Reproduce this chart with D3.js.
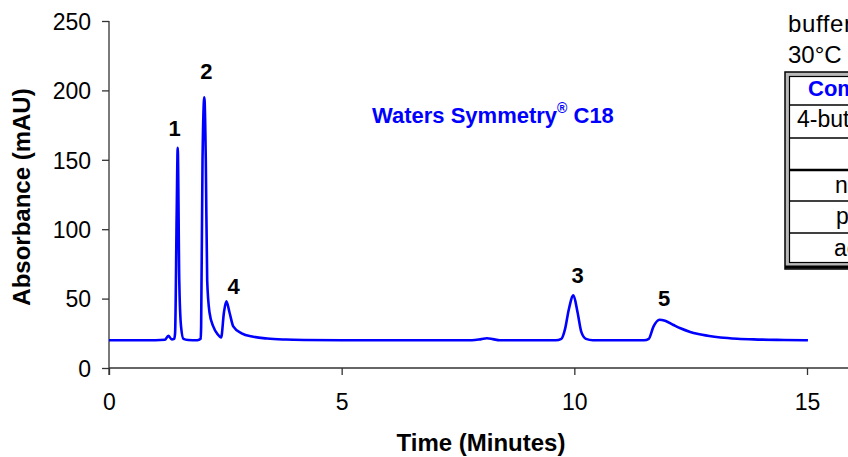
<!DOCTYPE html>
<html>
<head>
<meta charset="utf-8">
<script src="https://cdn.jsdelivr.net/npm/d3@7"></script>
<style>
  body { margin: 0; background: #fff; }
  svg { display: block; font-family: "Liberation Sans", Arial, sans-serif; }
</style>
</head>
<body>
<svg width="848" height="457"></svg>
<script>
// chromatogram (minutes, mAU)
var times = [0.00, 1.00, 1.20, 1.275, 1.35, 1.40, 1.42, 1.455, 1.477, 1.51, 1.548, 1.60, 1.70, 1.90,
  1.97, 1.98, 2.01, 2.049, 2.08, 2.11, 2.16, 2.24, 2.33, 2.41, 2.47, 2.522, 2.59, 2.67, 2.85, 3.10,
  3.40, 3.80, 4.20, 5.00, 7.80, 8.00, 8.12, 8.25, 8.40, 9.60, 9.72, 9.80, 9.88, 9.98, 10.07, 10.15,
  10.25, 10.40, 11.50, 11.60, 11.70, 11.83, 11.95, 12.13, 12.28, 12.49, 12.64, 12.90, 13.14, 13.50,
  13.85, 14.50, 15.02];
var absorbance = [20.0, 20.0, 20.3, 23.2, 20.6, 21.0, 25.0, 112.0, 158.7, 63.0, 30.0, 21.0, 20.2, 20.0,
  21.0, 30.0, 150.0, 195.0, 150.0, 63.0, 40.0, 30.0, 24.5, 22.0, 40.0, 48.0, 40.0, 30.0, 25.0, 22.5,
  21.2, 20.5, 20.2, 20.0, 20.0, 20.8, 21.4, 20.8, 20.0, 20.0, 21.0, 28.0, 42.0, 52.3, 40.0, 26.0,
  21.0, 20.0, 20.0, 21.0, 29.8, 34.8, 34.0, 31.0, 28.6, 26.0, 24.6, 23.0, 22.0, 21.1,
  20.6, 20.2, 20.0];

// peak numbers and where they sit (minutes, mAU of the text baseline)
var peakLabels = ["1", "2", "4", "3", "5"];
var peakLabelTime = [1.41, 2.09, 2.68, 10.07, 11.93];
var peakLabelAbs = [167, 208, 53, 61, 45];

var xTicks = [0, 5, 10, 15];
var yTicks = [0, 50, 100, 150, 200, 250];

// the method table, cut off by the right edge
var noteLines = ["buffer", "30°C"];
var tableHeader = "Compound";
var tableRows = ["4-butylbenzoic acid", "", "naphthalene", "phenol", "acetophenone"];

var svg = d3.select("svg");

var x = d3.scaleLinear().domain([0, 15]).range([109, 807]);
var y = d3.scaleLinear().domain([0, 250]).range([368, 21]);

// axes
var gx = svg.append("g")
    .attr("transform", "translate(0," + y(0) + ")")
    .call(d3.axisBottom(x).tickValues(xTicks).tickSize(7));
gx.select(".domain").attr("d", "M" + x(0) + ",0H848");

var gy = svg.append("g")
    .attr("transform", "translate(" + x(0) + ",0)")
    .call(d3.axisLeft(y).tickValues(yTicks).tickSize(7).tickPadding(11));
gy.select(".domain").attr("d", "M0," + y(250) + "V" + (y(0) + 7));

svg.selectAll(".tick text")
    .style("font-size", "23px")
    .attr("fill", "#000")
    .attr("font-family", "Liberation Sans, Arial, sans-serif");
svg.selectAll(".domain, .tick line").attr("stroke", "#333").attr("stroke-width", 1.3);
gy.selectAll(".tick text").attr("dy", "0.36em");
gx.selectAll(".tick text").attr("y", 42).attr("dy", 0);

// axis titles
svg.append("text")
    .attr("x", 481).attr("y", 451)
    .attr("text-anchor", "middle")
    .style("font", "bold 24px 'Liberation Sans', Arial, sans-serif")
    .text("Time (Minutes)");

svg.append("text")
    .attr("transform", "translate(30,197) rotate(-90)")
    .attr("text-anchor", "middle")
    .style("font", "bold 24px 'Liberation Sans', Arial, sans-serif")
    .text("Absorbance (mAU)");

// trace
var pts = times.map(function(t, i) { return [t, absorbance[i]]; });
var line = d3.line()
    .curve(d3.curveMonotoneX)
    .x(function(d) { return x(d[0]); })
    .y(function(d) { return y(d[1]); });

svg.append("path")
    .datum(pts)
    .attr("d", line)
    .attr("fill", "none")
    .attr("stroke", "#0000ff")
    .attr("stroke-width", 2.6)
    .attr("stroke-linejoin", "round");

// peak numbers
svg.selectAll(".peak")
    .data(peakLabels)
    .enter().append("text")
    .attr("class", "peak")
    .attr("x", function(d, i) { return x(peakLabelTime[i]); })
    .attr("y", function(d, i) { return y(peakLabelAbs[i]); })
    .attr("text-anchor", "middle")
    .style("font", "bold 22px 'Liberation Sans', Arial, sans-serif")
    .text(function(d) { return d; });

// column name
var col = svg.append("text")
    .attr("x", 372).attr("y", 123)
    .attr("fill", "#0000ff")
    .style("font", "bold 22px 'Liberation Sans', Arial, sans-serif");
col.append("tspan").text("Waters Symmetry");
col.append("tspan").attr("dy", -10).style("font-size", "14px").text("®");
col.append("tspan").attr("dy", 10).text(" C18");

// notes above the table
svg.selectAll(".note")
    .data(noteLines)
    .enter().append("text")
    .attr("class", "note")
    .attr("x", 788)
    .attr("y", function(d, i) { return 32 + i * 31; })
    .style("font", "24px 'Liberation Sans', Arial, sans-serif")
    .style("letter-spacing", function(d, i) { return i === 0 ? "0.6px" : "0px"; })
    .text(function(d) { return d; });

// table box with a bevelled edge
var tb = svg.append("g");
tb.append("rect").attr("x", 785).attr("y", 72).attr("width", 100).attr("height", 197)
    .attr("fill", "#b8b8b8").attr("stroke", "#000").attr("stroke-width", 1.5);
tb.append("rect").attr("x", 789.5).attr("y", 76.5).attr("width", 100).attr("height", 186)
    .attr("fill", "#fff").attr("stroke", "#000").attr("stroke-width", 1.2);
tb.append("line").attr("x1", 785).attr("x2", 848).attr("y1", 267).attr("y2", 267)
    .attr("stroke", "#000").attr("stroke-width", 3);

var rowLines = [105, 138, 170, 201, 233];
var rowWidths = [1.5, 1.5, 2.5, 1.5, 1.5];
tb.selectAll(".rowline")
    .data(rowLines)
    .enter().append("line")
    .attr("x1", 790).attr("x2", 848)
    .attr("y1", function(d) { return d; })
    .attr("y2", function(d) { return d; })
    .attr("stroke", "#000")
    .attr("stroke-width", function(d, i) { return rowWidths[i]; });

tb.append("text")
    .attr("x", 808).attr("y", 96)
    .attr("fill", "#0000ff")
    .style("font", "bold 22px 'Liberation Sans', Arial, sans-serif")
    .text(tableHeader);

var rowTextX = [797, 0, 835, 836, 834];
var rowTextY = [127, 160, 193, 224, 256];
tb.selectAll(".cell")
    .data(tableRows)
    .enter().append("text")
    .attr("class", "cell")
    .attr("x", function(d, i) { return rowTextX[i]; })
    .attr("y", function(d, i) { return rowTextY[i]; })
    .style("font", "23px 'Liberation Sans', Arial, sans-serif")
    .text(function(d) { return d; });
</script>
</body>
</html>
